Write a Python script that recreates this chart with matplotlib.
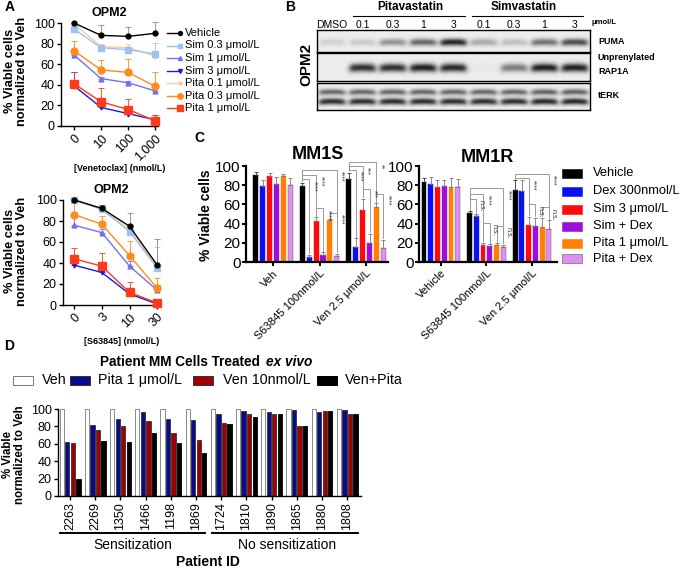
import numpy as np
import matplotlib
matplotlib.use('Agg')
import matplotlib.pyplot as plt
from matplotlib.patches import Rectangle
from matplotlib.lines import Line2D

plt.rcParams['font.family'] = ['Liberation Sans', 'DejaVu Sans']
plt.rcParams['axes.linewidth'] = 1.0

W, H = 680, 569

# ---------------- DATA ----------------
# Panel A
ven_doses = ['0', '10', '100', '1,000']
s63_doses = ['0', '3', '10', '30']
a_series = ['Vehicle', 'Sim 0.3 μmol/L', 'Sim 1 μmol/L', 'Sim 3 μmol/L',
            'Pita 0.1 μmol/L', 'Pita 0.3 μmol/L', 'Pita 1 μmol/L']
ven_vehicle = [100, 88, 87, 90]
ven_sim03 = [94, 76, 74, 70]
ven_sim1 = [69, 46, 42, 34]
ven_sim3 = [39, 18, 12, 6]
ven_pita01 = [99, 77, 76, 68]
ven_pita03 = [73, 54.5, 52, 38.5]
ven_pita1 = [41, 23.5, 16, 5]
ven_err_vehicle = [0, 10, 9, 11]
ven_err_sim03 = [2, 3, 3, 11]
ven_err_sim1 = [1, 2, 2, 2]
ven_err_sim3 = [13, 5, 5, 5]
ven_err_pita01 = [2, 3, 4, 3]
ven_err_pita03 = [10, 10, 13, 14]
ven_err_pita1 = [11, 13, 10, 6]

s63_vehicle = [100, 92, 75, 38]
s63_sim03 = [100, 91, 70, 35]
s63_sim1 = [76, 69, 37, 14]
s63_sim3 = [38, 31, 10.5, 1]
s63_pita01 = [101, 92, 72, 36]
s63_pita03 = [86, 77, 47, 16]
s63_pita1 = [44, 37, 12, 2]
s63_err_vehicle = [0, 3, 13, 25]
s63_err_sim03 = [2, 4, 5, 20]
s63_err_sim1 = [8, 3, 5, 5]
s63_err_sim3 = [8, 8, 5, 2]
s63_err_pita01 = [2, 3, 4, 5]
s63_err_pita03 = [12, 8, 14, 10]
s63_err_pita1 = [10, 13, 10, 3]

# Panel B (relative band intensities per lane)
blot_lanes = ['DMSO', '0.1', '0.3', '1', '3', '0.1', '0.3', '1', '3']
puma_int = [0.12, 0.15, 0.40, 0.60, 0.90, 0.30, 0.20, 0.55, 0.72]
rap1a_int = [0.0, 0.85, 0.85, 0.92, 0.88, 0.03, 0.50, 0.92, 0.92]
terk_int = [0.85, 0.85, 0.85, 0.85, 0.85, 0.85, 0.85, 0.88, 0.88]

# Panel C
c_series = ['Vehicle', 'Dex 300nmol/L', 'Sim 3 μmol/L', 'Sim + Dex', 'Pita 1 μmol/L', 'Pita + Dex']
mm1s_groups = ['Veh', 'S63845 100nmol/L', 'Ven 2.5 μmol/L']
mm1r_groups = ['Vehicle', 'S63845 100nmol/L', 'Ven 2.5 μmol/L']
mm1s_vals = [[91, 79.5, 90, 81, 90, 80],
             [79.5, 5.5, 42.5, 7, 43.5, 6.5],
             [86, 16, 54, 19.5, 57, 15]]
mm1s_err = [[3, 6, 3, 8, 2, 8],
            [3, 2, 4, 3, 1, 2],
            [7, 9, 12, 10, 4, 8]]
mm1r_vals = [[83, 81, 78.5, 79, 78.5, 78.5],
             [51, 48, 18, 16.5, 17.5, 16],
             [75, 73.5, 39, 38, 36, 34.5]]
mm1r_err = [[4, 8, 7, 6, 9, 8],
            [2, 2, 2, 2, 2, 2],
            [10, 12, 8, 8, 10, 9]]

# Panel D
d_series = ['Veh', 'Pita 1 μmol/L', 'Ven 10nmol/L', 'Ven+Pita']
patients = ['2263', '2269', '1350', '1466', '1198', '1869',
            '1724', '1810', '1890', '1865', '1880', '1808']
d_veh = [100] * 12
d_pita = [62, 82, 88, 96, 88, 87, 94, 98, 96.5, 99, 97, 98.5]
d_ven = [61, 76, 81, 86.5, 72, 64, 83.5, 94, 94, 80, 98, 94]
d_combo = [20, 63.5, 62.5, 72, 60.5, 49.5, 82.5, 91, 94, 81, 97.5, 94]

# ---------------- LAYOUT HELPERS ----------------
fig = plt.figure(figsize=(W / 100, H / 100), dpi=100)


def ax_px(x0, y0, x1, y1):
    return fig.add_axes([x0 / W, 1 - y1 / H, (x1 - x0) / W, (y1 - y0) / H])


def ftext(x, y, s, **kw):
    return fig.text(x / W, 1 - y / H, s, **kw)


def style_ax(ax, size=8):
    for s in ['top', 'right']:
        ax.spines[s].set_visible(False)
    ax.tick_params(labelsize=size, width=1.0, length=3, pad=1.5)


# ---------------- PANEL A ----------------
a_colors = ['#000000', '#9cc3ee', '#7171f5', '#1a1ae0', '#ffc99a', '#ff8c1a', '#ff3b1a']
a_markers = ['o', 's', '^', 'v', 'P', 'o', 's']
a_msize = [3.5, 4, 3.5, 3.5, 3, 5, 5.5]

ven_data = [ven_vehicle, ven_sim03, ven_sim1, ven_sim3, ven_pita01, ven_pita03, ven_pita1]
ven_errs = [ven_err_vehicle, ven_err_sim03, ven_err_sim1, ven_err_sim3, ven_err_pita01, ven_err_pita03, ven_err_pita1]
s63_data = [s63_vehicle, s63_sim03, s63_sim1, s63_sim3, s63_pita01, s63_pita03, s63_pita1]
s63_errs = [s63_err_vehicle, s63_err_sim03, s63_err_sim1, s63_err_sim3, s63_err_pita01, s63_err_pita03, s63_err_pita1]

draw_order = [4, 1, 2, 5, 3, 6, 0]


def draw_a(ax, doses, data, errs, xlabel, title):
    x = np.arange(len(doses))
    for k in draw_order:
        ax.errorbar(x, data[k], yerr=[np.zeros(len(x)), errs[k]], color=a_colors[k],
                    marker=a_markers[k], ms=a_msize[k], lw=1.0, elinewidth=0.6,
                    capsize=2, capthick=0.6, ecolor=a_colors[k] if k != 0 else '#888888',
                    clip_on=False, zorder=3 + (k == 0))
    ax.set_ylim(0, 100)
    ax.set_yticks([0, 20, 40, 60, 80, 100])
    ax.set_xticks(x)
    ax.set_xticklabels(doses, rotation=45, ha='right', rotation_mode='anchor', fontsize=9)
    style_ax(ax, 9)
    ax.set_xlabel(xlabel, fontsize=6.5, fontweight='bold', labelpad=2)
    ax.xaxis.set_label_coords(0.6, -0.37)
    ax.set_title(title, fontsize=9, fontweight='bold', pad=5)


axA1 = ax_px(61, 23, 158, 126)
draw_a(axA1, ven_doses, ven_data, ven_errs, '[Venetoclax] (nmol/L)', 'OPM2')
axA1.set_xlim(-0.48, 3.1)
axA2 = ax_px(63, 200, 160, 305)
draw_a(axA2, s63_doses, s63_data, s63_errs, '[S63845] (nmol/L)', 'OPM2')
axA2.set_xlim(-0.4, 3.1)
axA2.xaxis.set_label_coords(0.6, -0.3)

ftext(16, 71, '% Viable cells\nnormalized to Veh', rotation=90, ha='center', va='center',
      fontsize=9.2, fontweight='bold', linespacing=1.05)
ftext(16, 251, '% Viable cells\nnormalized to Veh', rotation=90, ha='center', va='center',
      fontsize=9.2, fontweight='bold', linespacing=1.05)

# legend A
for i, name in enumerate(a_series):
    yy = 33 + 12.5 * i
    fig.add_artist(Line2D([167 / W, 180 / W], [1 - yy / H, 1 - yy / H], color=a_colors[i], lw=1.0,
                          marker=a_markers[i], markevery=[1], ms=a_msize[i] * 0.8))
    ftext(185, yy, name, fontsize=8, va='center', ha='left')

# ---------------- PANEL B ----------------


def blot_strip(y0, y1, amps, bands):
    ax = ax_px(317, y0, 590, y1)
    nx, ny = 9 * 40, 80
    x = (np.arange(nx) + 0.5) / 40 - 0.5
    y = (np.arange(ny) + 0.5) / ny
    img = np.zeros((ny, nx))
    for k, a in enumerate(amps):
        lx = 1 / (1 + np.exp((np.abs(x - k) - 0.42) / 0.05))
        for yc, sy, w in bands:
            curve = yc + 0.03 * ((x - k) / 0.45) ** 2
            img += a * w * np.exp(-((y[:, None] - curve[None, :]) / sy) ** 2) * lx[None, :]
    img = np.clip(img, 0, 1)
    ax.imshow(0.93 - 0.88 * img, cmap='gray', vmin=0, vmax=1, extent=(-0.5, 8.5, 1, 0),
              aspect='auto', interpolation='bilinear')
    ax.set_xticks([])
    ax.set_yticks([])
    for s in ax.spines.values():
        s.set_linewidth(1.0)
    return ax


blot_strip(30, 52, puma_int, [(0.55, 0.16, 1.0)])
blot_strip(53, 81, rap1a_int, [(0.52, 0.15, 1.0)])
blot_strip(83, 110, terk_int, [(0.33, 0.11, 0.7), (0.68, 0.12, 1.0)])

lane_px = [317 + 273 / 9 * (k + 0.5) for k in range(9)]
for k, lab in enumerate(blot_lanes):
    ftext(lane_px[k], 25, lab, ha='center', va='center', fontsize=7.5)
ftext(592, 23, 'μmol/L', ha='left', va='center', fontsize=5.5, fontweight='bold')
ftext(410, 7, 'Pitavastatin', ha='center', va='center', fontsize=8.5, fontweight='bold')
ftext(524, 7, 'Simvastatin', ha='center', va='center', fontsize=8.5, fontweight='bold')
fig.add_artist(Line2D([353 / W, 465 / W], [1 - 16 / H] * 2, color='black', lw=0.8))
fig.add_artist(Line2D([472 / W, 583 / W], [1 - 16 / H] * 2, color='black', lw=0.8))
ftext(598, 42, 'PUMA', ha='left', va='center', fontsize=6.5, fontweight='bold')
ftext(598, 58, 'Unprenylated', ha='left', va='center', fontsize=6.5, fontweight='bold')
ftext(598, 72, 'RAP1A', ha='left', va='center', fontsize=6.5, fontweight='bold')
ftext(598, 96, 'tERK', ha='left', va='center', fontsize=6.5, fontweight='bold')
ftext(306, 64, 'OPM2', rotation=90, ha='center', va='center', fontsize=11, fontweight='bold')

# ---------------- PANEL C ----------------
c_colors = ['#000000', '#0a10f0', '#ff0a0a', '#9a10d8', '#ff8000', '#e08ef0']
offs = (np.arange(6) - 2.5) * 0.148
bw = 0.108


def draw_c(ax, groups, vals, errs):
    for g in range(len(groups)):
        for i in range(6):
            ax.bar(g + offs[i], vals[g][i], width=bw, color=c_colors[i],
                   edgecolor='#555555' if i == 5 else c_colors[i], linewidth=0.3, zorder=2)
            ax.errorbar(g + offs[i], vals[g][i], yerr=[[0], [errs[g][i]]], color='#777777' if i else '#333333',
                        elinewidth=0.6, capsize=1.5, capthick=0.6, zorder=3)
    ax.set_ylim(0, 100)
    ax.set_yticks([0, 20, 40, 60, 80, 100])
    ax.set_xticks(range(len(groups)))
    ax.set_xticklabels(groups, rotation=45, ha='right', rotation_mode='anchor', fontsize=7.5)
    style_ax(ax)
    ax.spines['left'].set_linewidth(1.6)
    ax.spines['bottom'].set_linewidth(1.6)
    ax.tick_params(axis='y', labelsize=11, width=1.4, pad=1)
    ax.tick_params(axis='x', width=1.4)


def bracket(ax, vals, errs, g, i, j, h, label):
    x1, x2 = g + offs[i], g + offs[j]
    b1 = vals[g][i] + errs[g][i] + 1.5
    b2 = vals[g][j] + errs[g][j] + 1.5
    ax.plot([x1, x1, x2, x2], [b1, h, h, b2], color='#9a9a9a', lw=0.7, clip_on=False, zorder=1)
    ax.text(x2 + 0.025, h - 1.5, label, rotation=270, ha='left', va='top', fontsize=5,
            color='#333333', clip_on=False)


axC1 = ax_px(246, 166, 388, 262)
draw_c(axC1, mm1s_groups, mm1s_vals, mm1s_err)
axC1.set_xlim(-0.58, 2.47)
axC2 = ax_px(419, 166, 557, 262)
draw_c(axC2, mm1r_groups, mm1r_vals, mm1r_err)
axC2.set_xlim(-0.48, 2.55)

mm1s_brackets = [(1, 0, 1, 86, '****'), (1, 0, 2, 91, '****'), (1, 0, 5, 96, '****'),
                 (1, 2, 3, 56, '****'), (1, 4, 5, 51, '****'),
                 (2, 0, 1, 96, '****'), (2, 0, 2, 100, '***'), (2, 0, 4, 104, '**'),
                 (2, 2, 3, 76, '***'), (2, 4, 5, 71, '****')]
mm1r_brackets = [(1, 0, 1, 66, 'n.s.'), (1, 0, 2, 71, '****'), (1, 0, 5, 77, '****'),
                 (1, 2, 3, 41, 'n.s.'), (1, 4, 5, 38, 'n.s.'),
                 (2, 0, 2, 87, '****'), (2, 0, 5, 92, '****'),
                 (2, 2, 3, 60, 'n.s.'), (2, 4, 5, 57, 'n.s.')]
for b in mm1s_brackets:
    bracket(axC1, mm1s_vals, mm1s_err, *b)
for b in mm1r_brackets:
    bracket(axC2, mm1r_vals, mm1r_err, *b)

ftext(318, 155, 'MM1S', ha='center', va='center', fontsize=13, fontweight='bold')
ftext(487, 157, 'MM1R', ha='center', va='center', fontsize=13, fontweight='bold')
ftext(206, 215, '% Viable cells', rotation=90, ha='center', va='center', fontsize=10, fontweight='bold')

for i, name in enumerate(c_series):
    yy = [173, 191, 209, 226, 243, 259][i]
    fig.add_artist(Rectangle((562 / W, 1 - (yy + 4.5) / H), 20 / W, 9 / H, facecolor=c_colors[i],
                             edgecolor='#555555' if i == 5 else c_colors[i], lw=0.4))
    ftext(593, yy, name, ha='left', va='center', fontsize=9.3)

# ---------------- PANEL D ----------------
d_colors = ['#ffffff', '#0a0a8c', '#a00000', '#000000']
d_edges = ['#777777', '#333333', '#333333', '#000000']
axD = ax_px(58, 409, 361, 496)
doffs = (np.arange(4) - 1.5) * 0.22
dvals = [d_veh, d_pita, d_ven, d_combo]
xpos = np.arange(len(patients))
for i in range(4):
    axD.bar(xpos + doffs[i], dvals[i], width=0.17, color=d_colors[i], edgecolor=d_edges[i],
            linewidth=0.6, zorder=2)
axD.set_xlim(-0.48, 11.55)
axD.set_ylim(0, 100)
axD.set_yticks([0, 20, 40, 60, 80, 100])
axD.set_xticks(xpos)
axD.set_xticklabels(patients, rotation=90, fontsize=8.5)
style_ax(axD, 9)
trans = axD.get_xaxis_transform()
axD.plot([-0.4, 5.36], [-0.425, -0.425], color='black', lw=1.4, transform=trans, clip_on=False)
axD.plot([5.63, 11.43], [-0.425, -0.425], color='black', lw=1.4, transform=trans, clip_on=False)
axD.text(2.5, -0.56, 'Sensitization', transform=trans, ha='center', va='center', fontsize=10)
axD.text(8.6, -0.56, 'No sensitization', transform=trans, ha='center', va='center', fontsize=10)
ftext(208, 562, 'Patient ID', ha='center', va='center', fontsize=10, fontweight='bold')
ftext(14, 455, '% Viable\nnormalized to Veh', rotation=90, ha='center', va='center',
      fontsize=8.3, fontweight='bold', linespacing=1.05)

t1 = ftext(100, 362, 'Patient MM Cells Treated ', ha='left', va='center', fontsize=9.8, fontweight='bold')
renderer = fig.canvas.get_renderer()
bb = t1.get_window_extent(renderer=renderer)
fig.text(bb.x1 / W + 2 / W, 1 - 362 / H, 'ex vivo', ha='left', va='center', fontsize=9.8,
         fontweight='bold', fontstyle='italic')

leg_box_x = [13, 70, 193, 317]
leg_txt_x = [42, 98, 223, 345]
for i, name in enumerate(d_series):
    fig.add_artist(Rectangle((leg_box_x[i] / W, 1 - 385 / H), 20 / W, 9 / H, facecolor=d_colors[i],
                             edgecolor=d_edges[i], lw=0.7))
    ftext(leg_txt_x[i], 380, name, ha='left', va='center', fontsize=10.3)

# ---------------- PANEL LETTERS ----------------
for lab, (x, y) in {'A': (10, 7), 'B': (290, 7), 'C': (199, 138), 'D': (9, 346)}.items():
    ftext(x, y, lab, ha='center', va='center', fontsize=10, fontweight='bold')

fig.savefig('out.png', dpi=100)
